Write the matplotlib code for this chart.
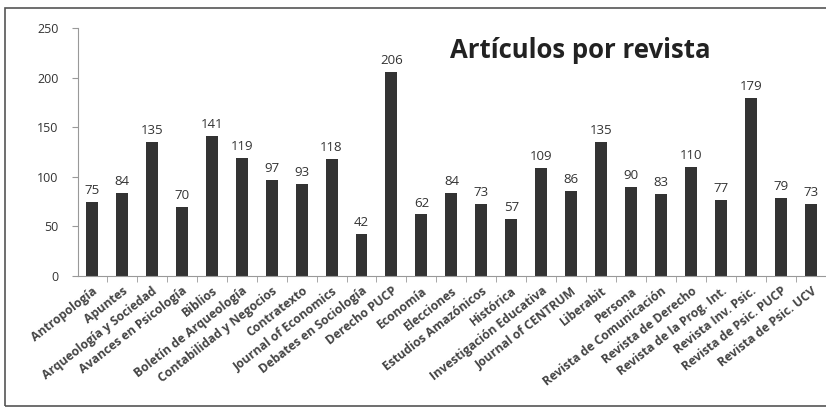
import matplotlib.pyplot as plt
from matplotlib.patches import Rectangle

revistas = [
    "Antropología", "Apuntes", "Arqueología y Sociedad", "Avances en Psicología",
    "Biblios", "Boletín de Arqueología", "Contabilidad y Negocios", "Contratexto",
    "Journal of Economics", "Debates en Sociología", "Derecho PUCP", "Economía",
    "Elecciones", "Estudios Amazónicos", "Histórica", "Investigación Educativa",
    "Journal of CENTRUM", "Liberabit", "Persona", "Revista de Comunicación",
    "Revista de Derecho", "Revista de la Prog. Int.", "Revista Inv. Psic.",
    "Revista de Psic. PUCP", "Revista de Psic. UCV",
]
articulos = [75, 84, 135, 70, 141, 119, 97, 93, 118, 42, 206, 62, 84, 73, 57,
             109, 86, 135, 90, 83, 110, 77, 179, 79, 73]
yticks = [0, 50, 100, 150, 200, 250]

plt.rcParams["font.family"] = ["Open Sans", "DejaVu Sans"]

fig = plt.figure(figsize=(8.26, 4.08), dpi=100)
ax = fig.add_axes([78 / 826, 132 / 408, 748 / 826, 248 / 408])

x = range(len(articulos))
ax.bar(x, articulos, width=0.4, color="#333333", zorder=2)
for xi, v in zip(x, articulos):
    ax.text(xi, v + 5, str(v), ha="center", va="bottom", fontsize=9.5, color="#333333")

ax.set_xlim(-0.46, len(articulos) - 1 + 0.27)
ax.set_ylim(0, 250)
ax.set_yticks(yticks)
ax.set_yticklabels([str(t) for t in yticks], fontsize=9, color="#333333")

ax.set_xticks(list(x))
ax.set_xticklabels(revistas, rotation=38, ha="right", rotation_mode="anchor",
                   fontsize=8.8, fontweight="bold", color="#444444")
ax.tick_params(axis="x", length=0, pad=6)
ax.set_xticks([i + 0.5 for i in x], minor=True)
ax.tick_params(axis="x", which="minor", length=4, color="#999999", direction="out")
ax.tick_params(axis="y", length=4, color="#999999", pad=10)

for s in ["top", "right"]:
    ax.spines[s].set_visible(False)
ax.spines["left"].set_color("#999999")
ax.spines["bottom"].set_color("#999999")

fig.text(0.545, 0.877, "Artículos por revista", fontsize=18.5, fontweight="bold",
         color="#222222", ha="left", va="center")

fig.patches.append(Rectangle((5 / 826, 2 / 408), 830 / 826, 398 / 408,
                             transform=fig.transFigure, fill=False,
                             edgecolor="#555555", lw=1.2))

plt.savefig("out.png", dpi=100)
